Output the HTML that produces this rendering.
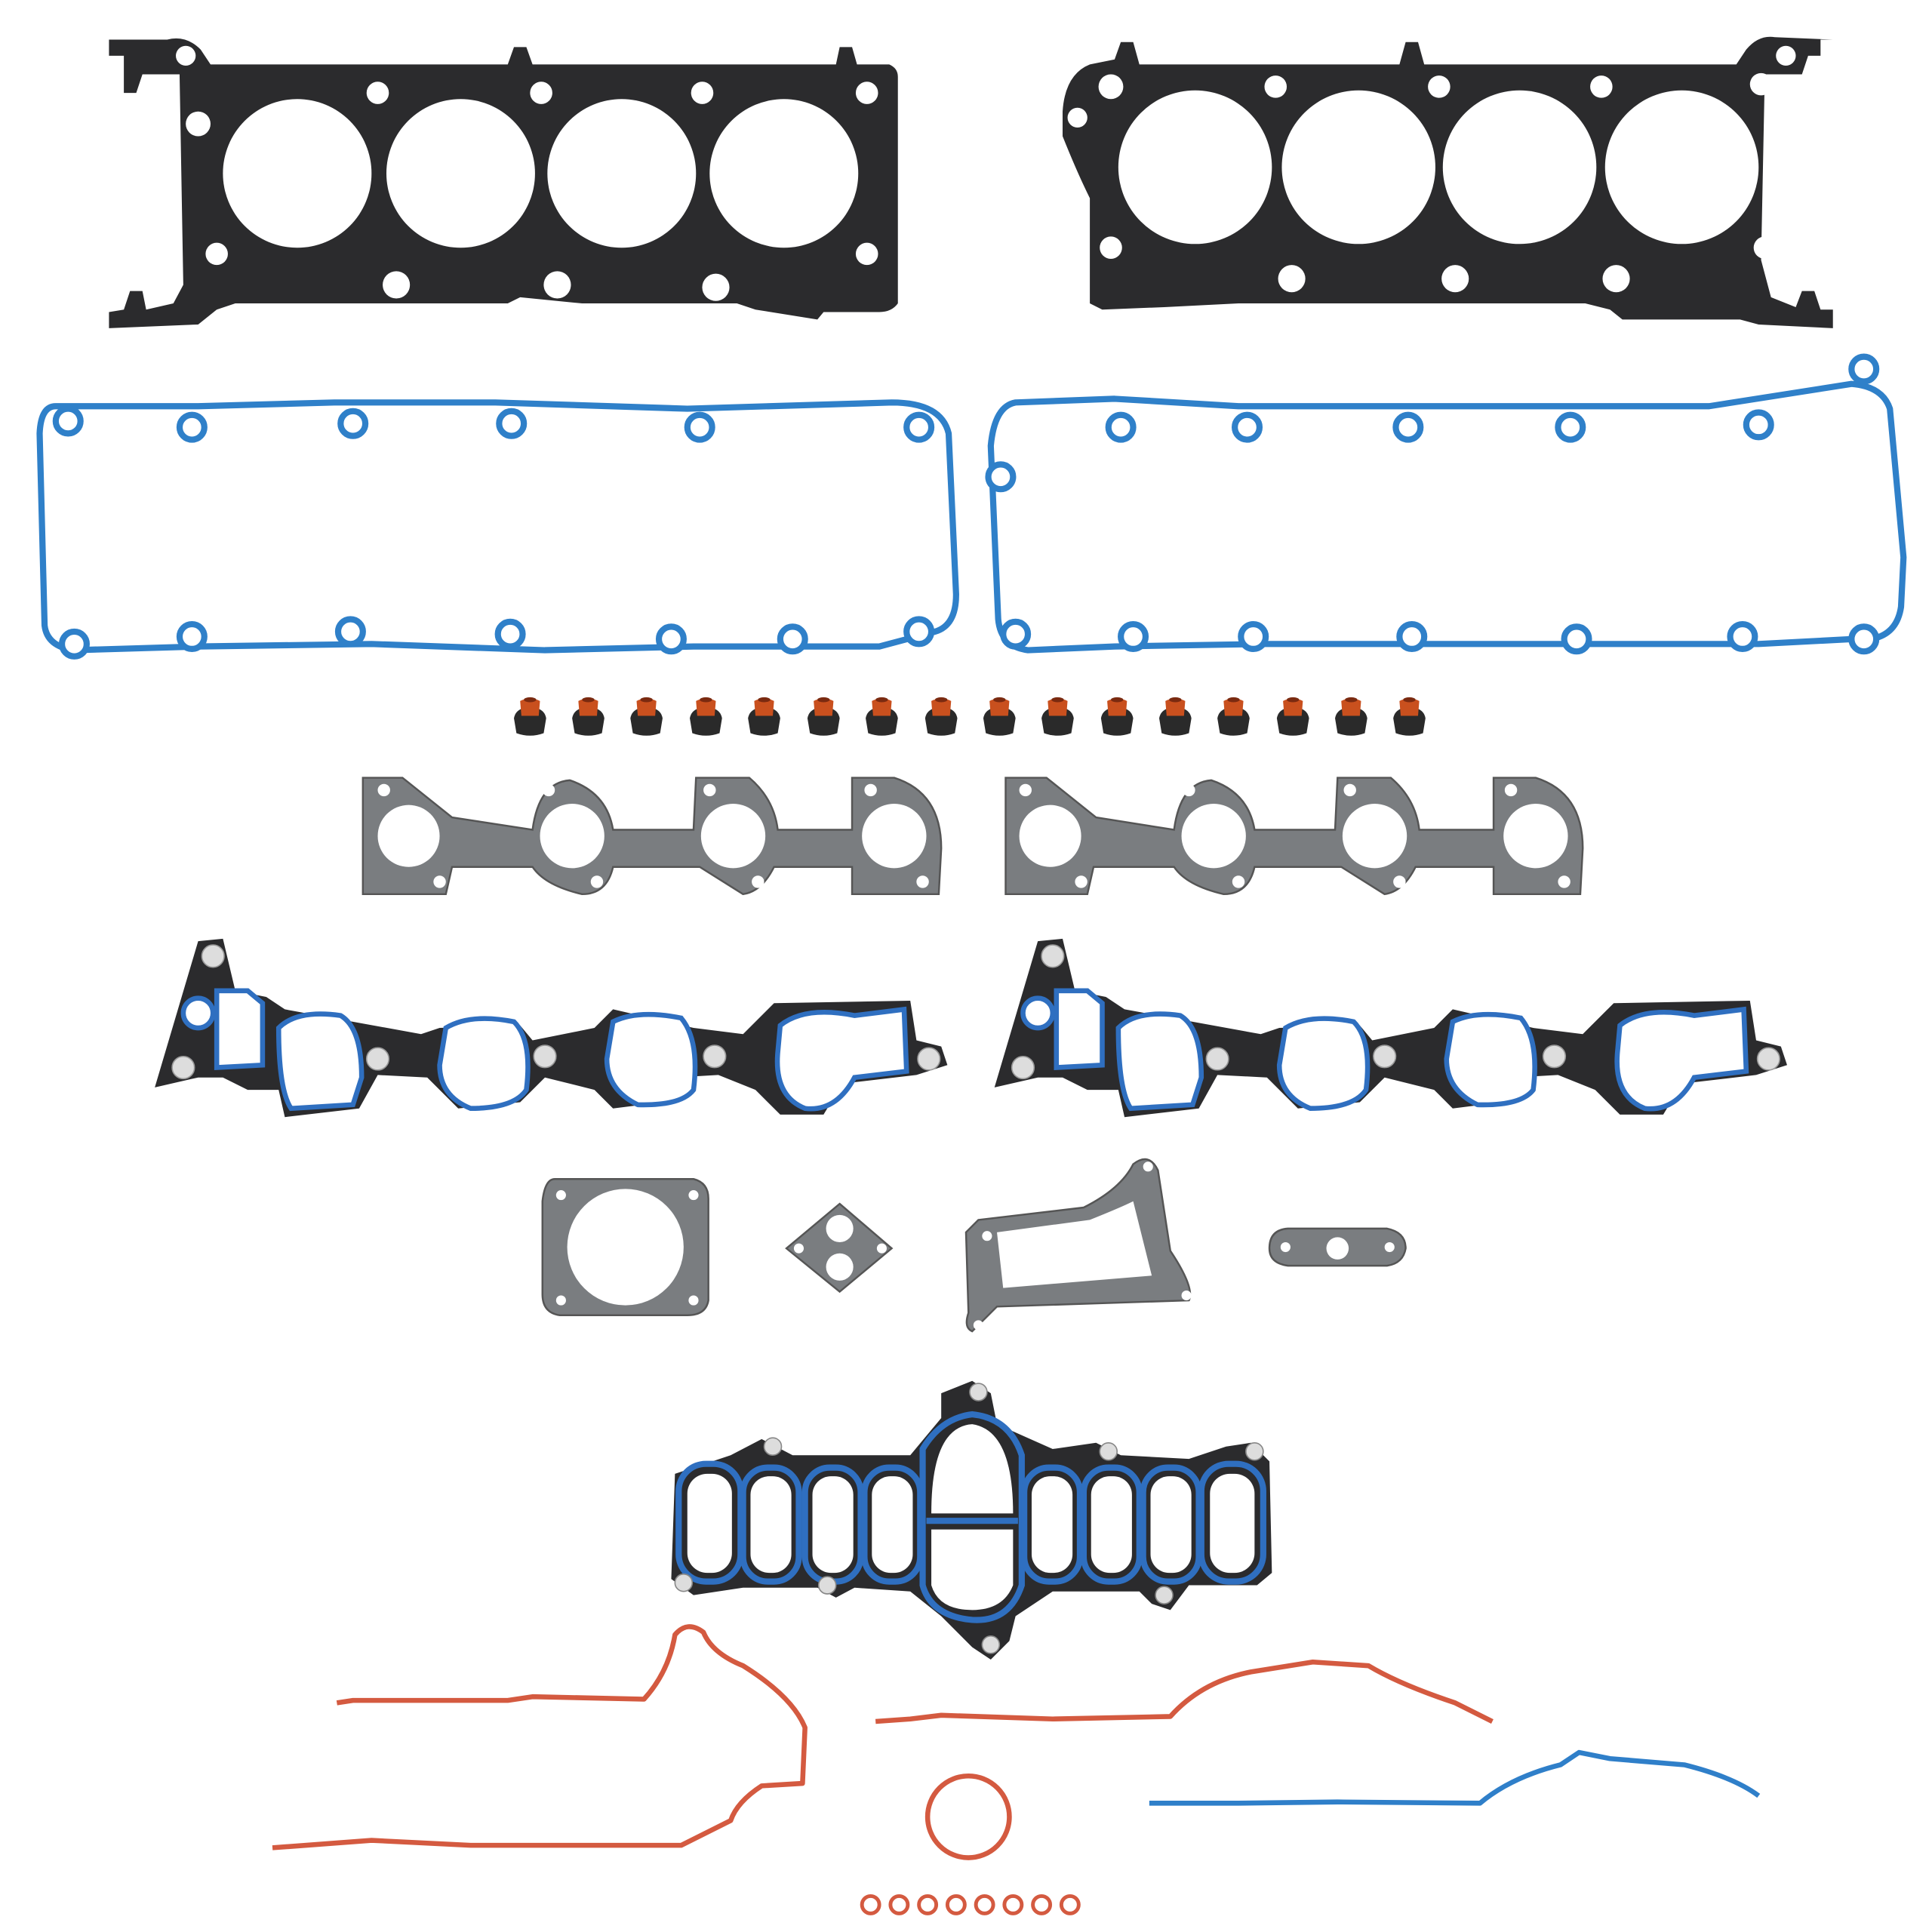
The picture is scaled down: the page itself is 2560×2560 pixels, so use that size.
<!DOCTYPE html>
<html><head><style>html,body{margin:0;padding:0;background:#fff}svg{display:block}</style></head>
<body>
<svg width="2560" height="2560" viewBox="0 0 1560 1560" xmlns="http://www.w3.org/2000/svg">
<defs>
<g id="seal"><path d="M-11,10 L-13,-2 Q-12,-8 -6,-10 L6,-10 Q12,-8 13,-2 L11,10 Q0,14 -11,10Z" fill="#2a2a2a"/><path d="M-7,-4 L-8,-16 Q0,-20 8,-16 L7,-4Z" fill="#c9501e"/><ellipse cx="0" cy="-17" rx="5" ry="2" fill="#7a2a10"/></g>
</defs>
<g fill="#2b2b2d">
<path d="M88,32 L135,32 Q150,28 162,40 L170,52 L410,52 L415,38 L425,38 L430,52 L675,52 L678,38 L688,38 L692,52 L718,52 Q725,55 725,62 L725,245 Q720,252 710,252 L665,252 L660,258 L610,250 L595,245 L470,245 L420,240 L410,245 L190,245 L175,250 L160,262 L88,265 L88,252 L100,250 L105,235 L115,235 L118,250 L140,245 L148,230 L145,60 L115,60 L110,75 L100,75 L100,45 L88,45Z"/>
<path d="M1480,32 L1433,30 Q1420,28 1410,40 L1402,52 L1150,52 L1145,34 L1135,34 L1130,52 L920,52 L915,34 L905,34 L900,48 L880,52 Q860,60 858,90 L858,110 Q870,140 880,160 L880,245 L890,250 L940,248 L1000,245 L1100,245 L1280,245 L1300,250 L1310,258 L1405,258 L1420,262 L1480,265 L1480,250 L1470,250 L1465,235 L1455,235 L1450,248 L1430,240 L1422,210 L1425,60 L1455,60 L1460,45 L1470,45 L1470,32Z"/>
</g>
<g fill="#fff">
<circle cx="240" cy="140" r="60"/><circle cx="372" cy="140" r="60"/><circle cx="502" cy="140" r="60"/><circle cx="633" cy="140" r="60"/>
<circle cx="965" cy="135" r="62"/><circle cx="1097" cy="135" r="62"/><circle cx="1227" cy="135" r="62"/><circle cx="1358" cy="135" r="62"/>
<circle cx="150" cy="45" r="8"/><circle cx="305" cy="75" r="9"/><circle cx="437" cy="75" r="9"/><circle cx="567" cy="75" r="9"/><circle cx="700" cy="75" r="9"/>
<circle cx="175" cy="205" r="9"/><circle cx="320" cy="230" r="11"/><circle cx="450" cy="230" r="11"/><circle cx="578" cy="232" r="11"/><circle cx="700" cy="205" r="9"/>
<circle cx="897" cy="70" r="10"/><circle cx="1030" cy="70" r="9"/><circle cx="1162" cy="70" r="9"/><circle cx="1293" cy="70" r="9"/><circle cx="1422" cy="68" r="9"/>
<circle cx="897" cy="200" r="9"/><circle cx="1043" cy="225" r="11"/><circle cx="1175" cy="225" r="11"/><circle cx="1305" cy="225" r="11"/><circle cx="1425" cy="200" r="9"/>
<circle cx="1442" cy="45" r="8"/><circle cx="160" cy="100" r="10"/><circle cx="870" cy="95" r="8"/>
</g>
<g fill="none" stroke="#2f80c9" stroke-width="5" stroke-linejoin="round">
<path d="M45,328 L160,328 L270,325 L400,325 L555,330 L720,325 Q760,325 766,350 L772,480 Q772,505 755,510 L710,522 L560,522 L440,525 L300,520 L160,522 L60,525 Q38,522 36,505 L32,350 Q33,328 45,328Z"/>
<path d="M820,325 L900,322 L1000,328 L1130,328 L1260,328 L1380,328 L1495,310 Q1520,312 1526,330 L1537,450 L1535,490 Q1532,510 1515,515 L1420,520 L1280,520 L1150,520 L1020,520 L900,522 L830,525 Q808,522 806,500 L800,360 Q803,328 820,325Z"/>
</g>
<g fill="#fff" stroke="#2f80c9" stroke-width="5">
<circle cx="55" cy="340" r="10"/><circle cx="155" cy="345" r="10"/><circle cx="285" cy="342" r="10"/><circle cx="413" cy="342" r="10"/><circle cx="565" cy="345" r="10"/><circle cx="742" cy="345" r="10"/>
<circle cx="60" cy="520" r="10"/><circle cx="155" cy="514" r="10"/><circle cx="283" cy="510" r="10"/><circle cx="412" cy="512" r="10"/><circle cx="542" cy="516" r="10"/><circle cx="640" cy="516" r="10"/><circle cx="742" cy="510" r="10"/>
<circle cx="905" cy="345" r="10"/><circle cx="1007" cy="345" r="10"/><circle cx="1137" cy="345" r="10"/><circle cx="1268" cy="345" r="10"/><circle cx="1420" cy="343" r="10"/><circle cx="1505" cy="298" r="10"/><circle cx="808" cy="385" r="10"/>
<circle cx="820" cy="512" r="10"/><circle cx="915" cy="514" r="10"/><circle cx="1012" cy="514" r="10"/><circle cx="1140" cy="514" r="10"/><circle cx="1273" cy="516" r="10"/><circle cx="1407" cy="514" r="10"/><circle cx="1505" cy="516" r="10"/>
</g>
<g>
<use href="#seal" x="428" y="582"/><use href="#seal" x="475" y="582"/><use href="#seal" x="522" y="582"/><use href="#seal" x="570" y="582"/><use href="#seal" x="617" y="582"/><use href="#seal" x="665" y="582"/><use href="#seal" x="712" y="582"/><use href="#seal" x="760" y="582"/><use href="#seal" x="807" y="582"/><use href="#seal" x="854" y="582"/><use href="#seal" x="902" y="582"/><use href="#seal" x="949" y="582"/><use href="#seal" x="996" y="582"/><use href="#seal" x="1044" y="582"/><use href="#seal" x="1091" y="582"/><use href="#seal" x="1138" y="582"/>
</g>
<g fill="#7a7d80" stroke="#555" stroke-width="1.5">
<path d="M293,628 L325,628 Q340,640 365,660 L430,670 Q435,632 460,630 Q490,640 495,670 L560,670 L562,628 L605,628 Q625,645 628,670 L688,670 L688,628 L722,628 Q760,640 760,685 L758,722 L688,722 L688,700 L625,700 Q615,720 600,722 L565,700 L495,700 Q490,722 470,722 Q440,715 430,700 L365,700 L360,722 L293,722Z"/>
<path d="M812,628 L845,628 Q860,640 885,660 L948,670 Q953,632 978,630 Q1008,640 1013,670 L1078,670 L1080,628 L1123,628 Q1143,645 1146,670 L1206,670 L1206,628 L1240,628 Q1278,640 1278,685 L1276,722 L1206,722 L1206,700 L1143,700 Q1133,720 1118,722 L1083,700 L1013,700 Q1008,722 988,722 Q958,715 948,700 L883,700 L878,722 L812,722Z"/>
</g>
<g fill="#fff">
<circle cx="330" cy="675" r="25"/><circle cx="462" cy="675" r="26"/><circle cx="592" cy="675" r="26"/><circle cx="722" cy="675" r="26"/>
<circle cx="848" cy="675" r="25"/><circle cx="980" cy="675" r="26"/><circle cx="1110" cy="675" r="26"/><circle cx="1240" cy="675" r="26"/>
<circle cx="310" cy="638" r="5"/><circle cx="443" cy="638" r="5"/><circle cx="573" cy="638" r="5"/><circle cx="703" cy="638" r="5"/><circle cx="355" cy="712" r="5"/><circle cx="482" cy="712" r="5"/><circle cx="612" cy="712" r="5"/><circle cx="745" cy="712" r="5"/>
<circle cx="828" cy="638" r="5"/><circle cx="960" cy="638" r="5"/><circle cx="1090" cy="638" r="5"/><circle cx="1220" cy="638" r="5"/><circle cx="873" cy="712" r="5"/><circle cx="1000" cy="712" r="5"/><circle cx="1130" cy="712" r="5"/><circle cx="1263" cy="712" r="5"/>
</g>
<g id="im">
<path d="M125,878 L160,760 L180,758 L190,800 L215,805 L230,815 L340,835 L355,830 L420,828 L430,840 L480,830 L495,815 L560,830 L600,835 L625,810 L735,808 L740,840 L760,845 L765,860 L740,868 L680,875 L665,900 L630,900 L610,880 L580,868 L545,870 L535,890 L495,895 L480,880 L440,870 L420,890 L370,895 L345,870 L305,868 L290,895 L230,902 L225,880 L200,880 L180,870 L160,870 Z" fill="#2b2b2d"/>
<g fill="#fff" stroke="#2f6fc0" stroke-width="4">
<path d="M175,800 L200,800 L212,810 L212,860 L175,862 Z"/>
<path d="M225,830 Q240,815 275,820 Q292,830 292,870 L285,892 L235,895 Q225,880 225,830Z"/>
<path d="M360,830 Q380,818 415,825 Q430,840 425,880 Q415,895 380,895 Q355,885 355,860Z"/>
<path d="M495,825 Q515,815 550,822 Q565,840 560,880 Q550,893 515,892 Q490,880 490,855Z"/>
<path d="M630,828 Q650,812 690,820 L730,815 L732,865 L690,870 Q675,898 650,895 Q625,885 628,850Z"/>
<circle cx="160" cy="818" r="12"/>
</g>
<g fill="#ddd" stroke="#999" stroke-width="1"><circle cx="172" cy="772" r="9"/><circle cx="148" cy="862" r="9"/><circle cx="305" cy="855" r="9"/><circle cx="440" cy="853" r="9"/><circle cx="577" cy="853" r="9"/><circle cx="750" cy="855" r="9"/></g>
</g>
<use href="#im" x="678" y="0"/>
<g fill="#7a7d80" stroke="#555" stroke-width="1.5">
<path d="M448,952 L560,952 Q572,955 572,968 L572,1050 Q570,1062 555,1062 L452,1062 Q438,1060 438,1045 L438,970 Q440,952 448,952Z"/>
<path d="M678,972 L720,1008 L678,1043 L635,1008Z"/>
<path d="M790,985 L875,975 Q905,960 915,940 Q928,930 935,945 L945,1010 Q965,1040 960,1050 L805,1055 Q790,1070 785,1075 Q778,1072 782,1060 L780,995Z"/>
<path d="M1040,992 L1120,992 Q1135,995 1135,1008 Q1133,1020 1120,1022 L1040,1022 Q1025,1020 1025,1008 Q1025,993 1040,992Z"/>
</g>
<g fill="#fff">
<circle cx="505" cy="1007" r="47"/><circle cx="453" cy="965" r="4"/><circle cx="560" cy="965" r="4"/><circle cx="453" cy="1050" r="4"/><circle cx="560" cy="1050" r="4"/>
<circle cx="678" cy="992" r="11"/><circle cx="678" cy="1023" r="11"/><circle cx="645" cy="1008" r="4"/><circle cx="712" cy="1008" r="4"/>
<path d="M805,995 L880,985 Q905,975 915,970 L930,1030 L810,1040Z"/><circle cx="927" cy="942" r="4"/><circle cx="797" cy="998" r="4"/><circle cx="790" cy="1070" r="4"/><circle cx="958" cy="1046" r="4"/>
<circle cx="1080" cy="1008" r="9"/><circle cx="1038" cy="1007" r="4"/><circle cx="1122" cy="1007" r="4"/>
</g>
<path d="M545,1190 L590,1175 L615,1162 L640,1175 L735,1175 L760,1145 L760,1125 L785,1115 L800,1125 L805,1150 L850,1170 L885,1165 L905,1175 L960,1178 L990,1168 L1010,1165 L1025,1180 L1027,1270 L1015,1280 L960,1280 L945,1300 L930,1295 L920,1285 L850,1285 L820,1305 L815,1325 L800,1340 L785,1330 L760,1305 L735,1285 L690,1282 L675,1290 L660,1282 L600,1282 L560,1288 L542,1275 Z" fill="#2b2b2d"/>
<g fill="none" stroke="#2f6fc0" stroke-width="5">
<rect x="548" y="1182" width="50" height="95" rx="22"/><rect x="600" y="1185" width="45" height="92" rx="20"/><rect x="650" y="1185" width="45" height="92" rx="20"/><rect x="698" y="1185" width="45" height="92" rx="20"/>
<path d="M745,1170 Q760,1145 785,1142 Q815,1145 825,1175 L825,1280 Q815,1310 785,1308 Q752,1305 745,1280Z M748,1228 L822,1228"/>
<rect x="827" y="1185" width="45" height="92" rx="20"/><rect x="875" y="1185" width="45" height="92" rx="20"/><rect x="923" y="1185" width="45" height="92" rx="20"/><rect x="970" y="1182" width="50" height="95" rx="22"/>
</g>
<g fill="#fff"><rect x="555" y="1190" width="36" height="80" rx="16"/><rect x="606" y="1192" width="33" height="78" rx="15"/><rect x="656" y="1192" width="33" height="78" rx="15"/><rect x="704" y="1192" width="33" height="78" rx="15"/><path d="M752,1222 Q752,1152 785,1150 Q818,1155 818,1222Z"/><path d="M752,1235 L818,1235 L818,1280 Q810,1300 785,1300 Q758,1300 752,1280Z"/><rect x="833" y="1192" width="33" height="78" rx="15"/><rect x="881" y="1192" width="33" height="78" rx="15"/><rect x="929" y="1192" width="33" height="78" rx="15"/><rect x="977" y="1190" width="36" height="80" rx="16"/></g>
<g fill="#ddd" stroke="#888"><circle cx="624" cy="1168" r="7"/><circle cx="790" cy="1124" r="7"/><circle cx="895" cy="1172" r="7"/><circle cx="1013" cy="1172" r="7"/><circle cx="552" cy="1278" r="7"/><circle cx="668" cy="1280" r="7"/><circle cx="940" cy="1288" r="7"/><circle cx="800" cy="1328" r="7"/></g>
<g fill="none" stroke-width="4" stroke-linejoin="round">
<path stroke="#d45a40" d="M272,1375 L285,1373 L410,1373 L430,1370 L520,1372 Q540,1350 545,1320 Q555,1308 568,1318 Q575,1335 600,1345 Q640,1370 650,1395 L648,1440 L615,1442 Q595,1455 590,1470 L550,1490 L380,1490 L300,1486 L220,1492"/>
<path stroke="#d45a40" d="M707,1390 L735,1388 L760,1385 L850,1388 L945,1386 Q970,1358 1010,1350 L1060,1342 L1105,1345 Q1130,1360 1175,1375 L1205,1390"/>
<path stroke="#2f7fc9" d="M928,1456 L1000,1456 L1080,1455 L1195,1456 Q1220,1435 1260,1425 L1275,1415 L1300,1420 L1360,1425 Q1400,1435 1420,1450"/>
<circle cx="782" cy="1467" r="33" stroke="#d45a40"/>
</g>
<g fill="none" stroke="#d45a40" stroke-width="3">
<circle cx="703" cy="1538" r="7"/><circle cx="726" cy="1538" r="7"/><circle cx="749" cy="1538" r="7"/><circle cx="772" cy="1538" r="7"/><circle cx="795" cy="1538" r="7"/><circle cx="818" cy="1538" r="7"/><circle cx="841" cy="1538" r="7"/><circle cx="864" cy="1538" r="7"/>
</g>
</svg>
</body></html>
